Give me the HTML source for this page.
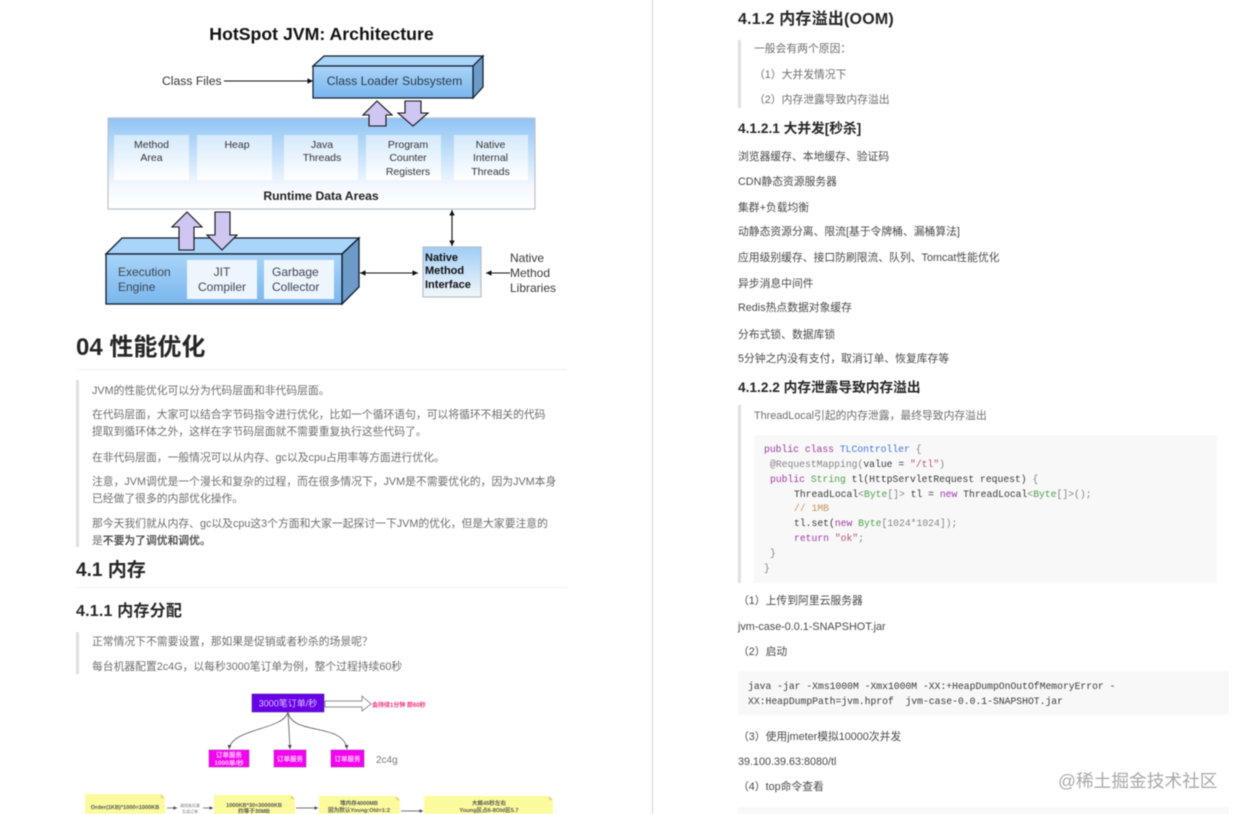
<!DOCTYPE html>
<html lang="zh"><head><meta charset="utf-8"><title>HotSpot JVM</title>
<style>
html,body{margin:0;padding:0;background:#fff;}
#p{position:relative;width:1240px;height:814px;overflow:hidden;background:#fff;font-family:"Liberation Sans","Noto Sans CJK SC",sans-serif;filter:blur(.5px);}
.t{position:absolute;white-space:pre;line-height:16px;height:16px;font-size:10.8px;color:#4a4a4a;margin-top:1px;}
.q{color:#6e6e6e;}
.h{color:#262626;font-weight:bold;}
.h1{font-size:24px;line-height:30px;height:30px;}
.h2{font-size:19px;line-height:24px;height:24px;}
.h3{font-size:16px;line-height:20px;height:20px;letter-spacing:.2px;}
.h4{font-size:13.7px;line-height:18px;height:18px;}
.bar{position:absolute;width:3px;background:#e0e0e0;}
.hr{position:absolute;height:1px;background:#f0f0f0;}
.cb{position:absolute;background:#f8f8f8;}
.c{position:absolute;white-space:pre;font-family:"Liberation Mono","DejaVu Sans Mono",monospace;font-size:9.72px;line-height:15px;height:15px;color:#3a3a3a;}
.k{color:#a03aa8}.b{color:#4078e0}.g{color:#50a14f}.o{color:#c9975a}.r{color:#b8566e}.gr{color:#858585}
svg{position:absolute;left:0;top:0;}
svg text{font-family:"Liberation Sans","Noto Sans CJK SC",sans-serif;}
</style></head><body><div id="p">

<svg width="652" height="814" viewBox="0 0 652 814">
<defs>
<linearGradient id="gr" x1="0" y1="0" x2="0" y2="1"><stop offset="0" stop-color="#8fc4f5"/><stop offset=".75" stop-color="#f4f9fe"/><stop offset="1" stop-color="#ffffff"/></linearGradient>
<linearGradient id="gi" x1="0" y1="0" x2="0" y2="1"><stop offset="0" stop-color="#d5eafc"/><stop offset="1" stop-color="#ffffff"/></linearGradient>
<linearGradient id="gf" x1="0" y1="0" x2="0" y2="1"><stop offset="0" stop-color="#a9d4f8"/><stop offset="1" stop-color="#7ab6ee"/></linearGradient>
<linearGradient id="gn" x1="0" y1="0" x2="0" y2="1"><stop offset="0" stop-color="#9fcdf6"/><stop offset="1" stop-color="#f3f7fb"/></linearGradient>
<marker id="ah" markerWidth="6" markerHeight="6" refX="5" refY="3" orient="auto-start-reverse"><path d="M0 .5L5 3L0 5.5z" fill="#111"/></marker>
<marker id="ag" markerWidth="6" markerHeight="6" refX="5" refY="3" orient="auto"><path d="M0 .5L5 3L0 5.5z" fill="#444"/></marker>
</defs>
<text x="321.500" y="40" font-size="17.700" font-weight="bold" fill="#111" text-anchor="middle">HotSpot JVM: Architecture</text>
<text x="162" y="85" font-size="12.200" fill="#333">Class Files</text>
<line x1="224" y1="81" x2="313" y2="81" stroke="#111" stroke-width="1.1" marker-end="url(#ah)"/>
<g stroke="#0d1a2c" stroke-width="1.2">
<polygon points="313,66 324,56 483,56 473,66" fill="#a9d5fa"/>
<polygon points="473,66 483,56 483,87 473,98" fill="#6d9bc8"/>
<rect x="313" y="66" width="160" height="32" fill="url(#gf)"/>
</g>
<text x="394.500" y="85" font-size="12.200" fill="#2a3a4a" text-anchor="middle">Class Loader Subsystem</text>
<rect x="108" y="118" width="427" height="91" fill="url(#gr)" stroke="#bcc4cc" stroke-width="1.2"/>
<g fill="url(#gi)">
<rect x="114" y="135" width="75" height="45"/><rect x="197" y="135" width="75" height="45"/><rect x="284" y="135" width="74" height="45"/><rect x="366" y="135" width="75" height="45"/><rect x="454" y="135" width="74" height="45"/>
</g>
<g font-size="10.500" fill="#333" text-anchor="middle">
<text x="151.500" y="148">Method</text><text x="151.500" y="161">Area</text>
<text x="237" y="148">Heap</text>
<text x="322" y="148">Java</text><text x="322" y="161">Threads</text>
<text x="408" y="148">Program</text><text x="408" y="161">Counter</text><text x="408" y="175">Registers</text>
<text x="490.500" y="148">Native</text><text x="490.500" y="161">Internal</text><text x="490.500" y="175">Threads</text>
</g>
<text x="321" y="200" font-size="12.200" font-weight="bold" fill="#222" text-anchor="middle">Runtime Data Areas</text>
<g stroke="#0d1a2c" stroke-width="1.3">
<polygon points="106,254 122,238 359,238 342,254" fill="#a9d5fa"/>
<polygon points="342,254 359,238 359,287 342,304" fill="#6d9bc8"/>
<rect x="106" y="254" width="236" height="50" fill="url(#gf)"/>
</g>
<rect x="187" y="260" width="70" height="39" fill="#eef6fd"/>
<rect x="264" y="260" width="70" height="39" fill="#eef6fd"/>
<g font-size="12" fill="#3a4652">
<text x="118" y="276">Execution</text><text x="118" y="291">Engine</text>
<text x="222" y="276" text-anchor="middle">JIT</text><text x="222" y="291" text-anchor="middle">Compiler</text>
<text x="272" y="276">Garbage</text><text x="272" y="291">Collector</text>
</g>
<g fill="#cfc6f2" stroke="#111" stroke-width="1.1">
<polygon points="377,101 392,115 386,115 386,126 369,126 369,115 363,115"/>
<polygon points="405,101 421,101 421,113 428,113 413,126 398,113 405,113"/>
<polygon points="187,212 202,227 194,227 194,250 179,250 179,227 172,227"/>
<polygon points="215,212 230,212 230,235 237,235 222,250 207,235 215,235"/>
</g>
<rect x="423" y="247" width="58" height="50" fill="url(#gn)" stroke="#b6bec6" stroke-width="1.2"/>
<g font-size="11" font-weight="bold" fill="#111">
<text x="425" y="261">Native</text><text x="425" y="274">Method</text><text x="425" y="288">Interface</text>
</g>
<g font-size="12" fill="#3a3a3a">
<text x="510" y="262">Native</text><text x="510" y="277">Method</text><text x="510" y="292">Libraries</text>
</g>
<line x1="452" y1="210" x2="452" y2="246" stroke="#111" stroke-width="1.1" marker-start="url(#ah)" marker-end="url(#ah)"/>
<line x1="360" y1="273" x2="418" y2="273" stroke="#111" stroke-width="1.1" marker-start="url(#ah)" marker-end="url(#ah)"/>
<line x1="510" y1="273" x2="486" y2="273" stroke="#111" stroke-width="1.1" marker-end="url(#ah)"/>

<rect x="252" y="694" width="72" height="18" fill="#6a00e8" stroke="#4a2a99" stroke-width=".6"/>
<text x="288" y="706.500" font-size="9" fill="#d8c8ff" text-anchor="middle">3000笔订单/秒</text>
<polygon points="325,701 362,701 362,696 371,704 362,711 362,707 325,707" fill="#fff" stroke="#666" stroke-width=".7"/>
<text x="372" y="707" font-size="6" font-weight="bold" fill="#f0307a">会持续1分钟 即60秒</text>
<g fill="none" stroke="#555" stroke-width=".8">
<path d="M288 712C284 730 232 728 229 749" marker-end="url(#ag)"/>
<path d="M288 712L290 749" marker-end="url(#ag)"/>
<path d="M288 712C292 736 343 722 347 749" marker-end="url(#ag)"/>
</g>
<g fill="#f500f0" stroke="#a23aa8" stroke-width=".6">
<rect x="209" y="750" width="40" height="17"/><rect x="274" y="750" width="32" height="17"/><rect x="331" y="750" width="33" height="17"/>
</g>
<g font-size="6.500" font-weight="bold" fill="#ffd0ff" text-anchor="middle">
<text x="229" y="757">订单服务</text><text x="229" y="765">1000单/秒</text>
<text x="290" y="761">订单服务</text><text x="347.500" y="761">订单服务</text>
</g>
<text x="376" y="763" font-size="10" fill="#777">2c4g</text>
<g fill="#fbfb9e">
<polygon points="85,794 161,794 165,798 165,830 85,830"/>
<polygon points="214,795 291,795 295,799 295,830 214,830"/>
<polygon points="319,796 396,796 400,800 400,830 319,830"/>
<polygon points="424,796 549,796 553,800 553,830 424,830"/>
</g>
<g fill="#d8d880">
<polygon points="161,794 165,798 161,798"/><polygon points="291,795 295,799 291,799"/><polygon points="396,796 400,800 396,800"/><polygon points="549,796 553,800 549,800"/>
</g>
<g font-size="5.600" font-weight="bold" fill="#555" text-anchor="middle">
<text x="125" y="809">Order(1KB)*1000=1000KB</text>
<text x="254" y="807">1000KB*30=30000KB</text><text x="254" y="813">约等于30MB</text>
<text x="359" y="805">堆内存4000MB</text><text x="359" y="812">因为默认Young:Old=1:2</text>
<text x="489" y="805">大概45秒左右</text><text x="489" y="812">Young区占6-8Old区5.7</text>
</g>
<text x="190" y="807" font-size="4" fill="#777" text-anchor="middle">调用各任意</text>
<text x="190" y="813" font-size="4" fill="#777" text-anchor="middle">生成订单</text>
<g stroke="#444" stroke-width=".7">
<line x1="167" y1="808" x2="177" y2="808" marker-end="url(#ag)"/><line x1="203" y1="808" x2="213" y2="808" marker-end="url(#ag)"/>
<line x1="296" y1="808" x2="318" y2="808" marker-end="url(#ag)"/><line x1="401" y1="811" x2="423" y2="811" marker-end="url(#ag)"/>
</g>
</svg>

<div style="position:absolute;left:652px;top:0;width:1px;height:814px;background:#cfcfcf"></div>

<div class="t h h1" style="left:76px;top:332px">04 性能优化</div>
<div class="hr" style="left:76px;top:369px;width:491px"></div>
<div class="bar" style="left:76px;top:380px;height:167px"></div>
<div class="t q" style="left:92px;top:382px">JVM的性能优化可以分为代码层面和非代码层面。</div>
<div class="t q" style="left:92px;top:406px">在代码层面，大家可以结合字节码指令进行优化，比如一个循环语句，可以将循环不相关的代码</div>
<div class="t q" style="left:92px;top:423px">提取到循环体之外，这样在字节码层面就不需要重复执行这些代码了。</div>
<div class="t q" style="left:92px;top:449px">在非代码层面，一般情况可以从内存、gc以及cpu占用率等方面进行优化。</div>
<div class="t q" style="left:92px;top:473px">注意，JVM调优是一个漫长和复杂的过程，而在很多情况下，JVM是不需要优化的，因为JVM本身</div>
<div class="t q" style="left:92px;top:490px">已经做了很多的内部优化操作。</div>
<div class="t q" style="left:92px;top:515px">那今天我们就从内存、gc以及cpu这3个方面和大家一起探讨一下JVM的优化，但是大家要注意的</div>
<div class="t q" style="left:92px;top:532px">是<b style="color:#555">不要为了调优和调优。</b></div>
<div class="t h h2" style="left:76px;top:558px">4.1 内存</div>
<div class="hr" style="left:76px;top:587px;width:491px"></div>
<div class="t h h3" style="left:76px;top:601px">4.1.1 内存分配</div>
<div class="bar" style="left:76px;top:632px;height:42px"></div>
<div class="t q" style="left:92px;top:633px">正常情况下不需要设置，那如果是促销或者秒杀的场景呢？</div>
<div class="t q" style="left:92px;top:658px">每台机器配置2c4G，以每秒3000笔订单为例，整个过程持续60秒</div>

<div class="t h h3" style="left:738px;top:9px">4.1.2 内存溢出(OOM)</div>
<div class="bar" style="left:738px;top:40px;height:68px"></div>
<div class="t q" style="left:754px;top:40px">一般会有两个原因：</div>
<div class="t q" style="left:754px;top:66px">（1）大并发情况下</div>
<div class="t q" style="left:754px;top:91px">（2）内存泄露导致内存溢出</div>
<div class="t h h4" style="left:738px;top:119px">4.1.2.1 大并发[秒杀]</div>
<div class="t" style="left:738px;top:148px">浏览器缓存、本地缓存、验证码</div>
<div class="t" style="left:738px;top:173px">CDN静态资源服务器</div>
<div class="t" style="left:738px;top:199px">集群+负载均衡</div>
<div class="t" style="left:738px;top:223px">动静态资源分离、限流[基于令牌桶、漏桶算法]</div>
<div class="t" style="left:738px;top:249px">应用级别缓存、接口防刷限流、队列、Tomcat性能优化</div>
<div class="t" style="left:738px;top:275px">异步消息中间件</div>
<div class="t" style="left:738px;top:299px">Redis热点数据对象缓存</div>
<div class="t" style="left:738px;top:326px">分布式锁、数据库锁</div>
<div class="t" style="left:738px;top:350px">5分钟之内没有支付，取消订单、恢复库存等</div>
<div class="t h h4" style="left:738px;top:378px">4.1.2.2 内存泄露导致内存溢出</div>
<div class="bar" style="left:738px;top:405px;height:178px"></div>
<div class="t q" style="left:754px;top:407px">ThreadLocal引起的内存泄露，最终导致内存溢出</div>
<div class="cb" style="left:754px;top:435px;width:463px;height:148px"></div>
<div class="c" style="left:764px;top:442px"><span class="k">public class</span> <span class="b">TLController</span> <span class="gr">{</span></div>
<div class="c" style="left:770px;top:457px"><span class="gr">@RequestMapping(</span>value = <span class="r">"/tl"</span><span class="gr">)</span></div>
<div class="c" style="left:770px;top:472px"><span class="k">public</span> <span class="g">String</span> tl(HttpServletRequest request) <span class="gr">{</span></div>
<div class="c" style="left:794px;top:487px">ThreadLocal<span class="gr">&lt;</span><span class="g">Byte</span><span class="gr">[]&gt;</span> tl = <span class="k">new</span> ThreadLocal<span class="gr">&lt;</span><span class="g">Byte</span><span class="gr">[]&gt;();</span></div>
<div class="c o" style="left:794px;top:501px">// 1MB</div>
<div class="c" style="left:794px;top:516px">tl.set(<span class="k">new</span> <span class="g">Byte</span><span class="gr">[1024*1024]);</span></div>
<div class="c" style="left:794px;top:531px"><span class="k">return</span> <span class="r">"ok"</span><span class="gr">;</span></div>
<div class="c gr" style="left:770px;top:546px">}</div>
<div class="c gr" style="left:764px;top:561px">}</div>
<div class="t" style="left:738px;top:592px">（1）上传到阿里云服务器</div>
<div class="t" style="left:738px;top:618px">jvm-case-0.0.1-SNAPSHOT.jar</div>
<div class="t" style="left:738px;top:643px">（2）启动</div>
<div class="cb" style="left:738px;top:671px;width:491px;height:44px"></div>
<div class="c" style="left:748px;top:679px">java -jar -Xms1000M -Xmx1000M -XX:+HeapDumpOnOutOfMemoryError -</div>
<div class="c" style="left:748px;top:694px">XX:HeapDumpPath=jvm.hprof  jvm-case-0.0.1-SNAPSHOT.jar</div>
<div class="t" style="left:738px;top:728px">（3）使用jmeter模拟10000次并发</div>
<div class="t" style="left:738px;top:753px">39.100.39.63:8080/tl</div>
<div class="t" style="left:738px;top:778px">（4）top命令查看</div>
<div class="cb" style="left:738px;top:807px;width:491px;height:7px"></div>
<div class="t" style="left:1058px;top:768px;font-size:17.700px;line-height:24px;height:24px;color:#a8a8a8">@稀土掘金技术社区</div>
</div></body></html>
